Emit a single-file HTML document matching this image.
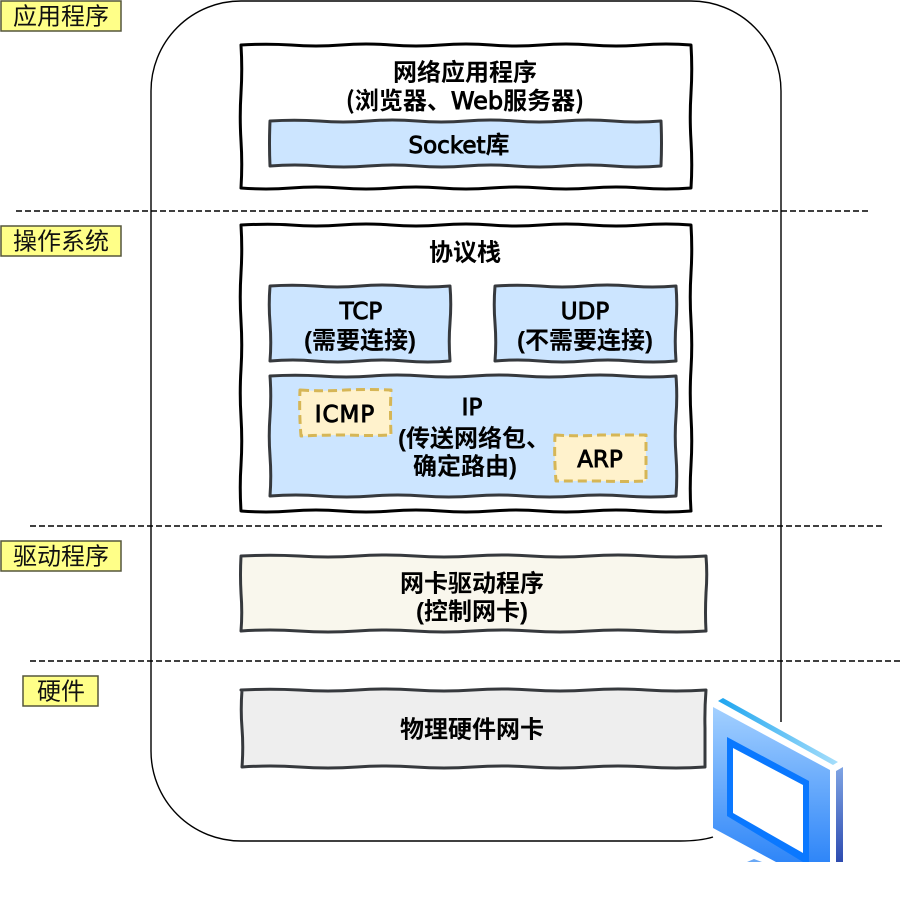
<!DOCTYPE html>
<html><head><meta charset="utf-8">
<style>
html,body{margin:0;padding:0;background:#fff;width:903px;height:917px;overflow:hidden}
svg{display:block}
text{fill:#000;text-anchor:middle;dominant-baseline:central}
text.m{dominant-baseline:auto}
.c{font-family:"Liberation Sans","Noto Sans CJK SC",sans-serif;font-weight:bold;font-size:24px}
.t{font-family:"DejaVu Sans",sans-serif;font-weight:normal;font-size:23px;stroke:#000;stroke-width:.9}
.k{font-family:"Noto Sans CJK SC",sans-serif;font-weight:bold;font-size:24px;stroke:none}
.w{font-family:"DejaVu Sans",sans-serif;font-weight:normal;font-size:24px;stroke:#000;stroke-width:.9}
.l{font-family:"Liberation Sans","WenQuanYi Zen Hei",sans-serif;font-size:24px;fill:#111}
</style></head><body>
<svg width="903" height="917" viewBox="0 0 903 917" xmlns="http://www.w3.org/2000/svg">
<defs>
<linearGradient id="f" x1="0" y1="0" x2="0" y2="1"><stop offset="0" stop-color="#a3d0ff"/><stop offset="1" stop-color="#2f86f8"/></linearGradient>
<linearGradient id="s" x1="0" y1="0" x2="1" y2="0"><stop offset="0" stop-color="#1ea5ef"/><stop offset="1" stop-color="#a6defb"/></linearGradient>
<linearGradient id="r" x1="0" y1="0" x2="0" y2="1"><stop offset="0" stop-color="#7fa4e4"/><stop offset="1" stop-color="#2e4cb0"/></linearGradient>
</defs>
<path d="M781,722 V91 A90,90 0 0 0 691,1 H241 A90,90 0 0 0 151,91 V751 A90,90 0 0 0 241,841 H680 Q700,841 713,837" fill="none" stroke="#000" stroke-width="1.4"/>
<g stroke="#000" stroke-width="1.4" stroke-dasharray="6 3" fill="none">
<path d="M16,211 H868"/><path d="M30,526 H882"/><path d="M30,661 H900"/>
</g>
<g fill="#ffff88" stroke="#55563c" stroke-width="1.5">
<rect x="1" y="1" width="120" height="30"/>
<rect x="1" y="226" width="120" height="30"/>
<rect x="1" y="541" width="120" height="30"/>
<rect x="23" y="676" width="75" height="30"/>
</g>
<text class="l" x="61" y="17">应用程序</text>
<text class="l" x="61" y="242">操作系统</text>
<text class="l" x="61" y="557">驱动程序</text>
<text class="l" x="61" y="692">硬件</text>
<g stroke-linejoin="round">
<path d="M241,45 q25,-1.5 50,0 q25,2 50,0 q25,-2 50,0 q25,2 50,0 q25,-2 50,0 q25,2 50,0 q25,-2 50,0 q25,2 50,0 q25,-2 50,0 q1.5,24 0,48 q-1.5,24 0,48 q1.5,24 0,47 q-25,2 -50,0 q-25,-2 -50,0 q-25,2 -50,0 q-25,-2 -50,0 q-25,2 -50,0 q-25,-2 -50,0 q-25,2 -50,0 q-25,-2 -50,0 q-25,2 -50,0 q1.5,-24 0,-47 q-1.5,-24 0,-48 q1.5,-24 0,-48 Z" fill="#fff" stroke="#000" stroke-width="3"/>
<path d="M270,121 q24,-1.5 49,0 q24,2 49,0 q24,-2 49,0 q24,2 49,0 q24,-2 49,0 q24,2 49,0 q24,-2 49,0 q24,2 48,0 q1,22 0,45 q-24,2 -48,0 q-24,-2 -49,0 q-24,2 -49,0 q-24,-2 -49,0 q-24,2 -49,0 q-24,-2 -49,0 q-24,2 -49,0 q-24,-2 -49,0 q-1,-22 0,-45 Z" fill="#cce5ff" stroke="#36393d" stroke-width="3"/>
<path d="M241,225 q28,-1.5 50,0 q25,2 50,0 q25,-2 50,0 q25,2 50,0 q25,-2 50,0 q25,2 50,0 q25,-2 50,0 q25,2 50,0 q25,-2 50,0 q1.5,24 0,48 q-1.5,24 0,48 q1.5,24 0,48 q-1.5,24 0,48 q1.5,24 0,48 q-1.5,24 0,46 q-25,2 -50,0 q-25,-2 -50,0 q-25,2 -50,0 q-25,-2 -50,0 q-25,2 -50,0 q-25,-2 -50,0 q-25,2 -50,0 q-25,-2 -50,0 q-25,2 -50,0 q-1.5,-24 0,-46 q1.5,-24 0,-48 q-1.5,-24 0,-48 q1.5,-24 0,-48 q-1.5,-24 0,-48 q1.5,-24 0,-48 Z" fill="#fff" stroke="#000" stroke-width="3"/>
<path d="M270,286 q22,-1.5 45,0 q22,2 45,0 q22,-2 45,0 q22,2 45,0 q1.5,18 0,37 q-1.5,18 0,38 q-22,2 -45,0 q-22,-2 -45,0 q-22,2 -45,0 q-22,-2 -45,0 q1.5,-18 0,-38 q-1.5,-18 0,-37 Z" fill="#cce5ff" stroke="#36393d" stroke-width="3"/>
<path d="M495,286 q22,-1.5 45,0 q22,2 45,0 q22,-2 45,0 q22,2 46,0 q1.5,18 0,37 q-1.5,18 0,38 q-22,2 -46,0 q-22,-2 -45,0 q-22,2 -45,0 q-22,-2 -45,0 q1.5,-18 0,-38 q-1.5,-18 0,-37 Z" fill="#cce5ff" stroke="#36393d" stroke-width="3"/>
<path d="M270,376 q25,-1.5 51,0 q25,2 51,0 q25,-2 51,0 q25,2 51,0 q25,-2 50,0 q25,2 51,0 q25,-2 50,0 q25,2 51,0 q1.5,20 0,40 q-1.5,20 0,40 q1.5,20 0,40 q-25,2 -51,0 q-25,-2 -50,0 q-25,2 -51,0 q-25,-2 -50,0 q-25,2 -51,0 q-25,-2 -51,0 q-25,2 -51,0 q-25,-2 -51,0 q1.5,-20 0,-40 q-1.5,-20 0,-40 q1.5,-20 0,-40 Z" fill="#cce5ff" stroke="#36393d" stroke-width="3"/>
<path d="M300,390 q23,1.5 45,0 q23,-1 46,0 q-1,22 0,45 q-23,1 -45,0 q-23,0 -45,1 q-2,-24 -1,-46 Z" fill="#fff2cc" stroke="#d6b656" stroke-width="3" stroke-dasharray="9 5"/>
<path d="M555,435 q23,1.5 45,0 q23,0 46,0 q0,23 0,46 q-23,1 -45,0 q-23,0 -45,0 q-2,-24 -1,-46 Z" fill="#fff2cc" stroke="#d6b656" stroke-width="3" stroke-dasharray="9 5"/>
<path d="M241,556 q29,-1.5 58,0 q29,2 58,0 q29,-2 58,0 q29,2 58,0 q29,-2 58,0 q29,2 58,0 q29,-2 58,0 q29,2 59,0 q1.5,18 0,37 q-1,20 0,38 q-29,2 -59,0 q-29,-2 -58,0 q-29,2 -58,0 q-29,-2 -58,0 q-29,2 -58,0 q-29,-2 -58,0 q-29,2 -58,0 q-29,-2 -58,0 q1.5,-18 0,-38 q-1,-18 0,-37 Z" fill="#f9f7ed" stroke="#36393d" stroke-width="3"/>
<path d="M241,690 q29,-1.5 58,0 q29,2 58,0 q29,-2 58,0 q29,2 58,0 q29,-2 58,0 q29,2 58,0 q29,-2 58,0 q29,2 59,0 q-1.5,20 -1,38 q0,20 0,39 q-29,2 -58,0 q-29,-2 -58,0 q-29,2 -58,0 q-29,-2 -58,0 q-29,2 -58,0 q-29,-2 -58,0 q-29,2 -58,0 q-29,-2 -57,0 q1.5,-20 0,-39 q-1.5,-18 0,-38 Z" fill="#eeeeee" stroke="#36393d" stroke-width="3"/>
</g>
<text class="c" x="465" y="73">网络应用程序</text>
<text class="m" x="465" y="109"><tspan class="k">(浏览器、</tspan><tspan class="w">Web</tspan><tspan class="k">服务器)</tspan></text>
<text class="m" x="459" y="153"><tspan class="t">Socket</tspan><tspan class="k">库</tspan></text>
<text class="c" x="465" y="253">协议栈</text>
<text class="t" x="361" y="312">TCP</text>
<text class="c" x="360" y="341">(需要连接)</text>
<text class="t" x="585" y="312">UDP</text>
<text class="c" x="585" y="341">(不需要连接)</text>
<text class="t" x="472" y="408">IP</text>
<text class="c" x="474" y="439">(传送网络包、</text>
<text class="c" x="465" y="467">确定路由)</text>
<text class="t" x="345" y="415" style="letter-spacing:1px">ICMP</text>
<text class="t" x="600" y="460">ARP</text>
<text class="c" x="472" y="584">网卡驱动程序</text>
<text class="c" x="472" y="612">(控制网卡)</text>
<text class="c" x="472" y="730">物理硬件网卡</text>
<polygon points="713,707 830,770 830,862 776,862 713,828" fill="url(#f)"/>
<polygon points="727,737 809,781 809,862 803,862 727,816" fill="#0a78ff"/>
<polygon points="733,748 803,785 803,853 733,813" fill="#fff"/>
<polygon points="718,701 723,698 838,762 833,765" fill="url(#s)"/>
<polygon points="836,771 843,767 843,862 836,862" fill="url(#r)"/>
<polygon points="747,862 754,859 762,862" fill="#6aa8f5"/>
</svg>
</body></html>
